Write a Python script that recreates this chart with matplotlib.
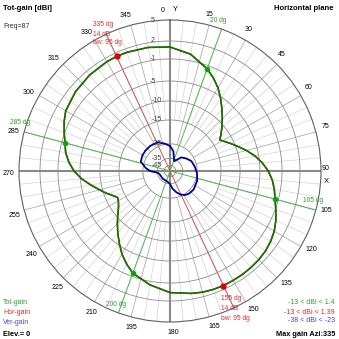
import numpy as np
import matplotlib
matplotlib.use("Agg")
import matplotlib.pyplot as plt

plt.rcParams['font.family'] = ['Liberation Sans', 'DejaVu Sans']

# gain levels of the rings and their radius on the plot (fraction of outer ring)
ring_db = [-45, -35, -25, -15, -10, -5, -1, 2, 5]
ring_pos = [0.038, 0.084, 0.180, 0.338, 0.464, 0.596, 0.742, 0.861, 1.0]

# total gain [dBi] vs azimuth [deg]
az_tot = [0, 10, 20, 25, 30, 35, 40, 45, 50, 55, 58, 62, 66, 70, 75, 80, 85, 90,
          95, 100, 105, 110, 115, 120, 125, 130, 135, 140, 145, 150, 155, 160,
          165, 170, 180, 190, 200, 205, 210, 215, 220, 225, 230, 235, 239, 243,
          247, 251, 255, 260, 265, 270, 275, 280, 285, 290, 295, 300, 310, 320,
          330, 335, 340, 350, 360]
tot_gain = [1.0, 0.1, -1.6, -2.7, -3.9, -5.4, -7.3, -9.0, -10.6, -12.1, -13.0,
            -12.0, -10.8, -9.5, -7.7, -5.9, -4.5, -3.5, -2.7, -2.1, -1.6, -0.9,
            -0.2, 0.4, 0.8, 1.1, 1.25, 1.33, 1.38, 1.4, 1.4, 1.35, 1.25, 1.05,
            0.6, -0.4, -1.6, -2.7, -3.9, -5.4, -7.2, -8.9, -10.5, -11.9, -12.6,
            -13.0, -12.0, -10.6, -9.3, -7.4, -5.3, -3.9, -2.9, -2.1, -1.6, -0.9,
            -0.2, 0.4, 0.9, 1.2, 1.38, 1.4, 1.38, 1.25, 1.0]
hor_gain = [0.99, 0.09, -1.61, -2.71, -3.91, -5.41, -7.31, -9.01, -10.61, -12.11,
            -13.0, -12.01, -10.81, -9.51, -7.71, -5.91, -4.51, -3.51, -2.71, -2.11,
            -1.61, -0.91, -0.21, 0.39, 0.79, 1.09, 1.24, 1.32, 1.37, 1.39, 1.39,
            1.34, 1.24, 1.04, 0.59, -0.41, -1.61, -2.71, -3.91, -5.41, -7.21,
            -8.91, -10.51, -11.91, -12.61, -13.0, -12.01, -10.61, -9.31, -7.41,
            -5.31, -3.91, -2.91, -2.11, -1.61, -0.91, -0.21, 0.39, 0.89, 1.19,
            1.37, 1.39, 1.37, 1.24, 0.99]

# vertical gain [dBi]
az_ver = [0, 10, 18, 23, 30, 40, 53, 65, 80, 95, 110, 128, 140, 148, 156, 163,
          172, 180, 190, 200, 225, 250, 258, 263, 270, 277, 288, 300, 310, 322,
          337, 350, 360]
ver_gain = [-26.5, -30.0, -35.0, -38.0, -35.0, -31.5, -29.5, -27.5, -26.4, -25.0,
            -24.3, -23.8, -24.0, -24.5, -26.0, -28.3, -31.5, -34.8, -37.0, -38.0,
            -38.0, -38.0, -36.5, -34.7, -30.0, -26.9, -23.5, -23.1, -23.0, -23.0,
            -23.3, -24.8, -26.5]

max_az, max_db, beamwidth = 335, 1.4, 95
half_power_az = [20, 105, 200, 285]

GREEN, RED, BLUE = '#008000', '#c80000', '#000090'
GREEN_T, RED_T, BLUE_T = '#2e9e2e', '#d03030', '#4848c0'


def rad(db):
    return np.interp(db, [-60] + ring_db, [0.0] + ring_pos)


fig = plt.figure(figsize=(3.39, 3.39), dpi=100)
cx, cy, R = 170 / 339, 168 / 339, 151 / 339
ax = fig.add_axes([cx - R, cy - R, 2 * R, 2 * R], projection='polar')
ax.set_theta_zero_location('N')
ax.set_theta_direction(-1)
ax.set_ylim(0, 1)
ax.set_xticks([])
ax.set_yticks([])
ax.grid(False)
ax.spines['polar'].set_color('#606060')
ax.spines['polar'].set_linewidth(0.8)

# grid: spokes and rings
for a in range(0, 360, 5):
    if a % 90 == 0:
        continue
    if a % 15 == 0:
        ax.plot([np.radians(a)] * 2, [rad(-25), 1], color='#a8a8a8', lw=0.55, zorder=1)
    else:
        ax.plot([np.radians(a)] * 2, [rad(-15), 1], color='#d4d4d4', lw=0.5, zorder=1)
th = np.linspace(0, 2 * np.pi, 721)
for db in ring_db[:-1]:
    ax.plot(th, np.full_like(th, rad(db)), color='#8c8c8c', lw=0.6, zorder=1)
for a in (0, 90, 180, 270):
    ax.plot([np.radians(a)] * 2, [0, 1], color='#8a8a8a', lw=1.5, zorder=1)

# half-power and max-gain lines
for a in half_power_az:
    ax.plot([np.radians(a)] * 2, [0, 1], color='#4cb84c', lw=0.7, zorder=2)
ax.plot([np.radians(max_az)] * 2, [0, 1], color='#d05050', lw=0.7, zorder=2)
ax.plot([np.radians(max_az - 180)] * 2, [0, 1], color='#d05050', lw=0.7, zorder=2)

# patterns
ax.plot(np.radians(az_ver), rad(np.array(ver_gain)), color=BLUE, lw=1.3, zorder=3)
ax.plot(np.radians(az_tot), rad(np.array(hor_gain)), color=RED, lw=1.1, zorder=3)
ax.plot(np.radians(az_tot), rad(np.array(tot_gain)), color=GREEN, lw=1.1, zorder=4)

hp = np.interp(half_power_az, az_tot, tot_gain)
ax.plot(np.radians(half_power_az), rad(hp), 'o', color='#10a010', ms=3, zorder=5)
ax.plot(np.radians([max_az, max_az - 180]), rad(np.array([max_db, max_db])), 'o',
        color='#e00000', ms=3.5, zorder=5)

# angle labels
for a in range(0, 360, 15):
    if a in (0, 90):
        continue
    ax.text(np.radians(a - 1), 1.068, str(a), ha='center', va='center',
            fontsize=5, clip_on=False)
ax.text(np.radians(-2.5), 1.066, '0', ha='center', va='center', fontsize=5, clip_on=False)
ax.text(np.radians(2), 1.072, 'Y', ha='center', va='center', fontsize=5.5, clip_on=False)
ax.text(np.radians(89), 1.03, '90', ha='center', va='center', fontsize=5, clip_on=False)
ax.text(np.radians(93.8), 1.035, 'X', ha='center', va='center', fontsize=5.5, clip_on=False)

# ring labels along the vertical axis
for db, r in zip(ring_db, ring_pos):
    dx = -17 if db >= -5 else -13
    ax.annotate(str(db), xy=(0, r), xytext=(dx * 0.72, 0), textcoords='offset points',
                ha='center', va='center', fontsize=5, color='#404040')


def P(x, y):
    return x / 339, 1 - y / 339


# marker annotations
for a, x, y in zip(half_power_az, [210, 303, 106, 10], [21, 201, 305, 123]):
    fig.text(*P(x, y), f'{a} dg', color=GREEN_T, fontsize=4.8, ha='left', va='center')
for x, ys, a in [(93, (25, 34, 43), max_az), (221, (299, 309, 318), max_az - 180)]:
    for y, s in zip(ys, [f'{a} dg', f'{max_db * 10:.0f} dB', f'bw: {beamwidth} dg']):
        fig.text(*P(x, y), s, color=RED_T, fontsize=4.8, ha='left', va='center')

# header and footer texts
fig.text(*P(3, 8), 'Tot-gain [dBi]', fontsize=5.5, weight='bold', ha='left', va='center')
fig.text(*P(3, 26), 'Freq=87', fontsize=5, ha='left', va='center', color='#303030')
fig.text(*P(334, 8), 'Horizontal plane', fontsize=5.5, weight='bold', ha='right', va='center')

fig.text(*P(3, 303), 'Tot-gain', fontsize=5, color=GREEN_T, ha='left', va='center')
fig.text(*P(3, 313), 'Hor-gain', fontsize=5, color=RED_T, ha='left', va='center')
fig.text(*P(3, 323), 'Ver-gain', fontsize=5, color=BLUE_T, ha='left', va='center')
fig.text(*P(3, 334), 'Elev.= 0', fontsize=5.3, weight='bold', ha='left', va='center')

fig.text(*P(335, 303), f'{min(tot_gain):.0f} < dBi < {max(tot_gain):.1f}', fontsize=5,
         color=GREEN_T, ha='right', va='center')
fig.text(*P(335, 312), f'{min(hor_gain):.0f} < dBi < {max(hor_gain):.2f}', fontsize=5,
         color=RED_T, ha='right', va='center')
fig.text(*P(335, 321), f'{min(ver_gain):.0f} < dBi < {max(ver_gain):.0f}', fontsize=5,
         color=BLUE_T, ha='right', va='center')
fig.text(*P(335, 334), f'Max gain Azi:{max_az}', fontsize=5.3, weight='bold',
         ha='right', va='center')

fig.savefig('out.png', dpi=100, facecolor='white')
